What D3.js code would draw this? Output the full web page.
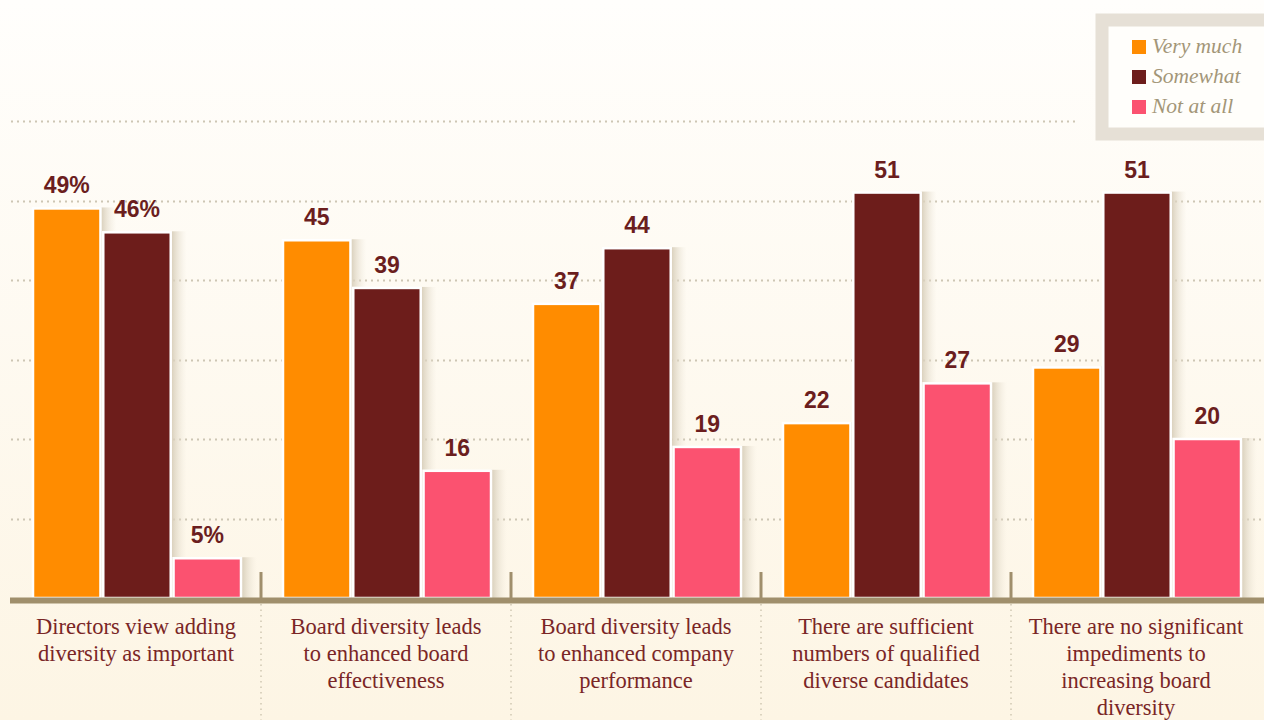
<!DOCTYPE html>
<html>
<head>
<meta charset="utf-8">
<script src="https://cdn.jsdelivr.net/npm/d3@7"></script>
<style>
  body { margin: 0; overflow: hidden; }
  svg { display: block; }
</style>
</head>
<body>
<svg></svg>
<script>
// chart values
let categories = [
  ["Directors view adding", "diversity as important"],
  ["Board diversity leads", "to enhanced board", "effectiveness"],
  ["Board diversity leads", "to enhanced company", "performance"],
  ["There are sufficient", "numbers of qualified", "diverse candidates"],
  ["There are no significant", "impediments to", "increasing board", "diversity"]
]
let seriesNames = ["Very much", "Somewhat", "Not at all"]
let veryMuch = [49, 45, 37, 22, 29]
let somewhat = [46, 39, 44, 51, 51]
let notAtAll = [5, 16, 19, 27, 20]
let yTicks = [10, 20, 30, 40, 50, 60]

let colors = ["#ff8c00", "#6d1d1b", "#fb5270"]
let seriesValues = [veryMuch, somewhat, notAtAll]

let width = 1264
let height = 720
let baseline = 598

let svg = d3.select("svg").attr("width", width).attr("height", height)

let defs = svg.append("defs")
let bg = defs.append("linearGradient").attr("id", "bg")
  .attr("x1", 0).attr("y1", 0).attr("x2", 0).attr("y2", 1)
bg.append("stop").attr("offset", "0%").attr("stop-color", "#fffefc")
bg.append("stop").attr("offset", "100%").attr("stop-color", "#fdf5e4")

let shade = defs.append("linearGradient").attr("id", "shade")
  .attr("x1", 0).attr("y1", 0).attr("x2", 1).attr("y2", 0)
shade.append("stop").attr("offset", "0%").attr("stop-color", "#d6ccb7").attr("stop-opacity", 1)
shade.append("stop").attr("offset", "100%").attr("stop-color", "#efe9dc").attr("stop-opacity", 0)

svg.append("rect").attr("width", width).attr("height", height).attr("fill", "url(#bg)")

let x0 = d3.scaleBand()
  .domain(d3.range(categories.length))
  .range([11, 1261])

let x1 = d3.scaleBand()
  .domain(seriesNames)
  .range([22, 230])
  .paddingInner(0.04)

let y = d3.scaleLinear()
  .domain([0, 60])
  .range([baseline, 121])

// dotted gridlines
svg.append("g")
  .selectAll("line")
  .data(yTicks)
  .enter()
  .append("line")
  .attr("x1", 11)
  .attr("x2", d => d == 60 ? 1078 : width)
  .attr("y1", d => Math.round(y(d)) + 0.5)
  .attr("y2", d => Math.round(y(d)) + 0.5)
  .attr("stroke", "#cdc6b4")
  .attr("stroke-width", 2)
  .attr("stroke-dasharray", "2,4")

let rows = []
categories.forEach((c, i) => {
  seriesNames.forEach((s, j) => {
    rows.push({ cat: i, series: s, j: j, value: seriesValues[j][i] })
  })
})

let groups = svg.append("g")

// soft shadow strip right of each bar
groups.selectAll(".shadow")
  .data(rows)
  .enter()
  .append("rect")
  .attr("class", "shadow")
  .attr("x", d => x0(d.cat) + x1(d.series) + x1.bandwidth())
  .attr("y", d => y(d.value) - 1)
  .attr("width", 16)
  .attr("height", d => baseline - y(d.value) + 1)
  .attr("fill", "url(#shade)")

groups.selectAll(".bar")
  .data(rows)
  .enter()
  .append("rect")
  .attr("class", "bar")
  .attr("x", d => x0(d.cat) + x1(d.series))
  .attr("y", d => y(d.value))
  .attr("width", x1.bandwidth())
  .attr("height", d => baseline - y(d.value))
  .attr("fill", d => colors[d.j])
  .attr("stroke", "#fff")
  .attr("stroke-width", 2.5)

groups.selectAll(".val")
  .data(rows)
  .enter()
  .append("text")
  .attr("class", "val")
  .attr("x", d => x0(d.cat) + x1(d.series) + x1.bandwidth() / 2)
  .attr("y", d => y(d.value) - 15)
  .attr("text-anchor", "middle")
  .style("font-family", "'Liberation Sans', Arial, sans-serif")
  .style("font-weight", "bold")
  .style("font-size", "23px")
  .attr("fill", "#6b1e1e")
  .text(d => d.cat == 0 ? d.value + "%" : d.value)

// separators between categories
let seps = x0.domain().slice(1).map(i => x0(i))
svg.append("g").selectAll("line")
  .data(seps)
  .enter()
  .append("line")
  .attr("x1", d => d).attr("x2", d => d)
  .attr("y1", 572).attr("y2", baseline)
  .attr("stroke", "#a08f6c")
  .attr("stroke-width", 3)
svg.append("g").selectAll("line")
  .data(seps)
  .enter()
  .append("line")
  .attr("x1", d => d).attr("x2", d => d)
  .attr("y1", baseline + 6).attr("y2", height)
  .attr("stroke", "#cfc7b3")
  .attr("stroke-width", 1.5)
  .attr("stroke-dasharray", "1.5,4")

// axis band
svg.append("line")
  .attr("x1", 10).attr("x2", width)
  .attr("y1", baseline + 2.5).attr("y2", baseline + 2.5)
  .attr("stroke", "#a08f6c")
  .attr("stroke-width", 6)

// category labels
let labels = svg.append("g").selectAll("text")
  .data(categories)
  .enter()
  .append("text")
  .attr("x", (d, i) => x0(i) + x0.bandwidth() / 2)
  .attr("y", 634)
  .attr("text-anchor", "middle")
  .style("font-family", "'Liberation Serif', 'DejaVu Serif', serif")
  .style("font-size", "22.5px")
  .attr("fill", "#7a2626")
labels.selectAll("tspan")
  .data(d => d)
  .enter()
  .append("tspan")
  .attr("x", function () { return d3.select(this.parentNode).attr("x") })
  .attr("dy", (d, i) => i == 0 ? 0 : 27)
  .text(d => d)

// legend
let legend = svg.append("g")
legend.append("rect")
  .attr("x", 1102).attr("y", 20)
  .attr("width", 200).attr("height", 114)
  .attr("fill", "#fffefb")
  .attr("stroke", "#e6e0d6")
  .attr("stroke-width", 13)
let items = legend.selectAll(".item")
  .data(seriesNames)
  .enter()
  .append("g")
  .attr("transform", (d, i) => "translate(1132," + (40 + i * 30) + ")")
items.append("rect")
  .attr("width", 14).attr("height", 14)
  .attr("fill", (d, i) => colors[i])
items.append("text")
  .attr("x", 20).attr("y", 13)
  .style("font-family", "'Liberation Serif', 'DejaVu Serif', serif")
  .style("font-style", "italic")
  .style("font-size", "21.5px")
  .attr("fill", "#a39678")
  .text(d => d)
</script>
</body>
</html>
